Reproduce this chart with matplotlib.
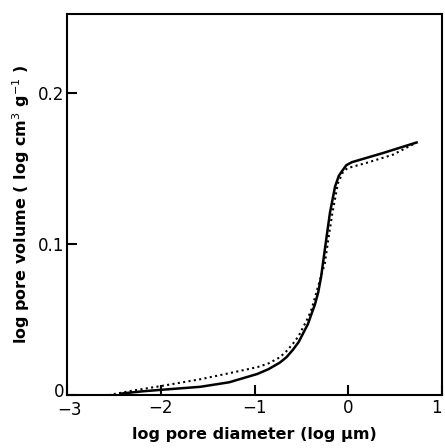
import matplotlib

matplotlib.use("Agg")
import matplotlib.pyplot as plt  # noqa: E402
from matplotlib.transforms import ScaledTranslation  # noqa: E402

# solid curve (log diameter, log volume)
solid_x = [-2.43, -2.2, -2.0, -1.58, -1.27, -0.97, -0.85, -0.73, -0.66,
           -0.59, -0.53, -0.48, -0.43, -0.39, -0.355, -0.32, -0.29, -0.27,
           -0.23, -0.195, -0.14, -0.10, -0.067, -0.02, 0.04, 0.37, 0.73]
solid_y = [0.001, 0.0025, 0.0035, 0.0055, 0.0085, 0.014, 0.0172, 0.0215,
           0.025, 0.030, 0.035, 0.041, 0.047, 0.054, 0.060, 0.068, 0.078,
           0.087, 0.105, 0.1205, 0.138, 0.145, 0.148, 0.152, 0.154, 0.160,
           0.167]

# dotted curve
dot_x = [-2.56, -2.3, -2.0, -1.58, -1.27, -0.97, -0.85, -0.73, -0.66,
         -0.59, -0.53, -0.48, -0.43, -0.39, -0.33, -0.25, -0.21, -0.17,
         -0.11, -0.06, -0.01, 0.2, 0.48, 0.73]
dot_y = [0.0, 0.003, 0.006, 0.0105, 0.0145, 0.0185, 0.021, 0.025, 0.029,
         0.034, 0.039, 0.045, 0.051, 0.057, 0.070, 0.087, 0.104, 0.120,
         0.140, 0.147, 0.150, 0.1536, 0.159, 0.167]

x_ticks = [-3, -2, -1, 0, 1]
x_labels = ["\u22123", "\u22122", "\u22121", "0", "1"]
y_ticks = [0, 0.1, 0.2]
y_labels = ["0", "0.1", "0.2"]

fig = plt.figure(figsize=(4.45, 4.48), dpi=100)
ax = fig.add_axes([0.151, 0.118, 0.842, 0.851])

ax.plot(solid_x, solid_y, "k-", lw=1.8, solid_joinstyle="round")
ax.plot(dot_x, dot_y, color="k", ls=(0, (1, 1.6)), lw=1.5)

ax.set_xticks(x_ticks)
ax.set_xticklabels(x_labels)
ax.set_yticks(y_ticks)
ax.set_yticklabels(y_labels)
ax.set_xlim(-3, 1)
ax.set_ylim(0, 0.252)
ax.tick_params(direction="in", length=7, width=1.5, labelsize=12, pad=3)
ax.tick_params(axis="y", pad=2)
for s in ax.spines.values():
    s.set_linewidth(1.5)

# corner labels: "0" a bit higher, "-3" a bit lower so they don't collide
lab0 = ax.get_yticklabels()[0]
lab0.set_transform(lab0.get_transform()
                   + ScaledTranslation(0, 4 / 72, fig.dpi_scale_trans))
lab3 = ax.get_xticklabels()[0]
lab3.set_transform(lab3.get_transform()
                   + ScaledTranslation(2 / 72, -1 / 72, fig.dpi_scale_trans))
# the last x label would run off the right edge
ax.get_xticklabels()[-1].set_horizontalalignment("right")

ax.set_xlabel("log pore diameter (log \u03bcm)", fontsize=11.5,
              fontweight="bold", labelpad=6)
ax.set_ylabel("log pore volume ( log cm$^3$ g$^{-1}$ )", fontsize=11.5,
              fontweight="bold", labelpad=4)

fig.savefig("out.png", dpi=100)
